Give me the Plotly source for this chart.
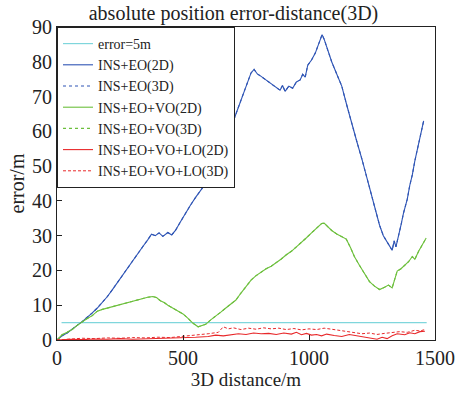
import plotly.graph_objects as go

# ---- data ----
blue_x = [0,20,40,60,80,100,120,140,160,180,200,220,240,260,280,300,320,340,360,375,390,405,420,440,455,470,490,510,530,550,570,590,610,630,650,670,690,710,730,750,770,782,795,810,830,850,870,885,895,905,920,935,950,965,975,985,995,1010,1025,1040,1052,1060,1075,1090,1110,1130,1150,1170,1190,1210,1230,1250,1265,1280,1295,1310,1320,1330,1338,1345,1355,1365,1375,1390,1400,1410,1420,1435,1445,1455]
blue_y = [0,1.2,2,3,4.2,5.3,6.5,7.8,9.2,10.8,12.5,14.5,16.6,18.5,20.5,22.7,24.8,26.8,28.8,30.4,30,30.8,29.8,30.9,30.2,31.5,34,36.5,38.8,41,43,45,47,50,53.5,57,61,65,69,73,76.8,77.8,76.5,75.8,74.8,73.6,72.8,71.8,73.2,71.5,73,72.4,74.2,74.8,76.4,75.6,79,80.5,82.5,85.5,87.8,86.5,83,80,76.5,73,67.5,62,57,52,46.5,41.5,37.5,33,30,28,27,25.8,28.5,26.8,29.5,33,36.5,40.5,44.5,47.5,51.5,56.5,60,63]

green_x = [0,20,40,60,80,100,120,140,160,180,200,220,240,260,280,300,320,340,360,380,395,410,425,440,460,480,500,520,540,560,575,590,610,630,650,670,690,710,730,750,770,790,810,830,850,870,890,910,930,950,970,990,1010,1030,1050,1060,1075,1090,1110,1130,1148,1165,1180,1200,1220,1240,1260,1280,1300,1315,1330,1340,1350,1365,1380,1395,1410,1420,1435,1450,1465]
green_y = [0,1.5,2.2,3,4.2,5.3,6.2,7,8.3,8.8,9.2,9.5,9.9,10.2,10.6,11,11.4,11.8,12.3,12.5,12.2,11.3,10.8,10,9.2,8.2,7.5,6.2,4.8,3.8,4.2,4.5,5.8,6.8,8,9.2,10.3,11.5,13.5,15.5,17.2,18.5,19.6,20.5,21.2,22.2,23.3,24.5,25.5,26.8,28,29.4,30.8,32.2,33.5,33.6,32.5,31.5,30.5,29.8,29,26.5,24,21.5,19,16.8,15.5,14.5,15.2,15.8,15,17.5,19.8,20.5,21.5,22.5,24,23.2,25.5,27.5,29.3]

red2d_x = [0,50,100,150,200,250,300,350,400,450,500,550,600,630,660,690,720,750,780,810,840,870,900,930,950,970,990,1010,1030,1050,1070,1100,1130,1160,1190,1220,1250,1270,1290,1310,1330,1350,1380,1400,1420,1440,1460]
red2d_y = [0,0.2,0.1,0.3,0.2,0.4,0.2,0.3,0.5,0.4,0.6,0.8,1,1.4,1.2,1.5,1.8,1.6,2,1.8,1.9,1.6,2,1.7,2.2,1.5,1.9,1.4,1.6,1.2,1.7,1.3,1.0,1.6,1.2,0.8,0.5,0.2,0.8,0.4,1.2,1.8,1.5,2.1,1.8,2.4,2.5]

red3d_x = [0,50,100,150,200,250,300,350,400,450,500,550,600,640,660,680,700,730,760,790,820,850,880,910,940,970,1000,1030,1060,1090,1120,1150,1180,1210,1240,1270,1300,1330,1360,1390,1420,1440,1460]
red3d_y = [0,0.3,0.5,0.4,0.6,0.5,0.7,0.6,0.8,0.7,1,1.3,1.8,2.2,3.8,3.2,3.5,3.0,3.4,3.1,3.5,3.2,3.4,3.0,3.3,2.9,3.2,3.0,3.4,3.1,2.8,2.5,2.2,1.8,2.0,1.6,1.9,2.2,2.4,2.2,2.8,2.6,3]

ref_x = [18, 1467]
ref_y = [5, 5]

x_ticks = [0, 500, 1000, 1500]
y_ticks = [0, 10, 20, 30, 40, 50, 60, 70, 80, 90]

FONT = "'Liberation Serif', 'Times New Roman', serif"
CYAN = "#7fd6dc"
BLUE = "#2f55b5"
GREEN = "#6cbf3c"
RED = "#e8282a"

fig = go.Figure()
fig.add_trace(go.Scatter(x=ref_x, y=ref_y, mode="lines", name="error=5m",
                         line=dict(color=CYAN, width=1.2)))
fig.add_trace(go.Scatter(x=blue_x, y=blue_y, mode="lines", name="INS+EO(2D)",
                         line=dict(color=BLUE, width=1.1)))
fig.add_trace(go.Scatter(x=blue_x, y=blue_y, mode="lines", name="INS+EO(3D)",
                         line=dict(color=BLUE, width=1.1, dash="dot")))
fig.add_trace(go.Scatter(x=green_x, y=green_y, mode="lines", name="INS+EO+VO(2D)",
                         line=dict(color=GREEN, width=1.1)))
fig.add_trace(go.Scatter(x=green_x, y=green_y, mode="lines", name="INS+EO+VO(3D)",
                         line=dict(color=GREEN, width=1.1, dash="dot")))
fig.add_trace(go.Scatter(x=red2d_x, y=red2d_y, mode="lines", name="INS+EO+VO+LO(2D)",
                         line=dict(color=RED, width=1.1)))
fig.add_trace(go.Scatter(x=red3d_x, y=red3d_y, mode="lines", name="INS+EO+VO+LO(3D)",
                         line=dict(color=RED, width=1.0, dash="3px,2px")))

axis_common = dict(showline=True, linecolor="#222", linewidth=1, mirror=True,
                   ticks="inside", ticklen=5, tickcolor="#222", showgrid=False,
                   zeroline=False, tickfont=dict(family=FONT, size=20, color="#222"))

fig.update_layout(
    width=467, height=395,
    margin=dict(l=57, r=27, t=27, b=55),
    paper_bgcolor="white", plot_bgcolor="white",
    font=dict(family=FONT, color="#222"),
    title=dict(text="absolute position error-distance(3D)", x=0.5, xref="container",
               y=0.968, yref="container", yanchor="middle",
               font=dict(family=FONT, size=20, color="#222")),
    xaxis=dict(range=[0, 1500], tickvals=x_ticks,
               title=dict(text="3D distance/m", font=dict(family=FONT, size=19), standoff=0),
               **axis_common),
    yaxis=dict(range=[0, 90], tickvals=y_ticks,
               title=dict(text="error/m", font=dict(family=FONT, size=20), standoff=2),
               **axis_common),
    legend=dict(x=0, y=1, xanchor="left", yanchor="top", bgcolor="white",
                bordercolor="#222", borderwidth=1,
                font=dict(family=FONT, size=14, color="#222"),
                tracegroupgap=0, itemwidth=30),
    showlegend=True,
)

fig.write_html("out.html")
